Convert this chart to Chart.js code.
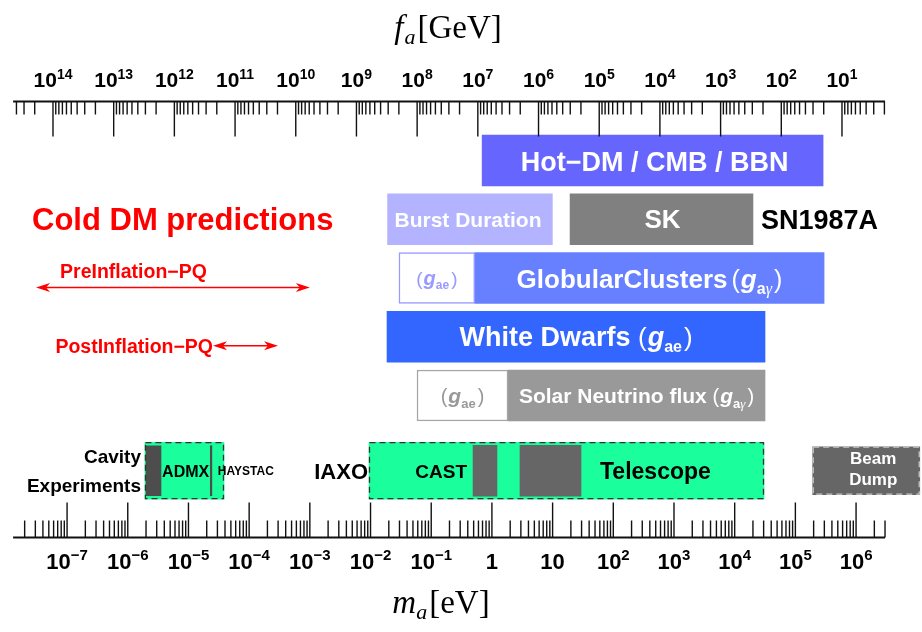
<!DOCTYPE html>
<html>
<head>
<meta charset="utf-8">
<script src="https://cdn.jsdelivr.net/npm/chart.js@4.4.1/dist/chart.umd.min.js"></script>
<style>
  html, body { margin: 0; padding: 0; background: #fff; }
  #wrap { width: 922px; height: 632px; }
</style>
</head>
<body>
<div id="wrap"><canvas id="axion_chart" width="922" height="632"></canvas></div>
<script>
// axion mass ranges (eV)
const hotDM = [0.69, 2.86e5];
const burstDuration = [0.0191, 9.9];
const superK = [19.4, 2.0e4];
const globularGae = [0.0294, 0.522];
const globularGag = [0.522, 2.97e5];
const whiteDwarfs = [0.0187, 3.16e4];
const solarGae = [0.0583, 1.84];
const solarGag = [1.84, 3.16e4];
const cavity = [1.92e-6, 3.85e-5];
const admx = [2.0e-6, 3.53e-6];
const haystac = [2.29e-5, 2.43e-5];
const helioscope = [9.44e-3, 3.04e4];
const castLow = [0.489, 1.21];
const castHigh = [2.9, 29.4];
const beamDump = [1.93e5, 1.12e7];
const preInflation = [3.08e-8, 1.0e-3];
const postInflation = [2.54e-5, 2.99e-4];

// rows on the vertical axis
const rows = ["Hot-DM", "SN1987A", "Globular Clusters", "White Dwarfs", "Solar", "Experiments"];
const rowPos = [0, 1, 2, 3, 4, 5.28];

// axes
const massExponents = [-7, -6, -5, -4, -3, -2, -1, 0, 1, 2, 3, 4, 5, 6];
const faExponents = [14, 13, 12, 11, 10, 9, 8, 7, 6, 5, 4, 3, 2, 1];
const massAxisRange = [1.29e-8, 3.0e6];
const faTimesMass = 5.86e6; // m_a[eV] * f_a[GeV]

const SANS = '"Liberation Sans", Arial, sans-serif';
const SERIF = '"Liberation Serif", "Times New Roman", serif';

function bar(key, range, row, color, thick, extra) {
  return Object.assign({
    key: key,
    data: [{ x: range, y: rowPos[row] }],
    backgroundColor: color,
    borderWidth: 0,
    borderSkipped: false,
    barThickness: thick,
    grouped: false,
    order: 0,
  }, extra || {});
}

const datasets = [
  bar("hotDM", hotDM, 0, "#6666ff", 51),
  bar("burst", burstDuration, 1, "#b3b3ff", 51),
  bar("sk", superK, 1, "#808080", 51),
  bar("globGae", globularGae, 2, "#ffffff", 51, { borderWidth: 1.5, borderColor: "#9999ff" }),
  bar("globGag", globularGag, 2, "#6680ff", 51),
  bar("wd", whiteDwarfs, 3, "#3366ff", 51),
  bar("solGae", solarGae, 4, "#ffffff", 51, { borderWidth: 1.5, borderColor: "#a6a6a6" }),
  bar("solGag", solarGag, 4, "#999999", 51),
  bar("cavity", cavity, 5, "#1aff9c", 57, { order: 1, dashed: "#333333" }),
  bar("admx", admx, 5, "#4d4d4d", 50),
  bar("haystac", haystac, 5, "#4d4d4d", 50),
  bar("helio", helioscope, 5, "#1aff9c", 57, { order: 1, dashed: "#333333" }),
  bar("castLow", castLow, 5, "#666666", 51),
  bar("castHigh", castHigh, 5, "#666666", 51),
  bar("beam", beamDump, 5, "#666666", 48, { dashed: "#c8c8c8" }),
];

function rectOf(chart, key) {
  const i = chart.data.datasets.findIndex((d) => d.key === key);
  const el = chart.getDatasetMeta(i).data[0];
  const p = el.getProps(["x", "y", "base", "height"], true);
  const left = Math.min(p.x, p.base), right = Math.max(p.x, p.base);
  return { left: left, right: right, top: p.y - p.height / 2, bottom: p.y + p.height / 2, cx: (left + right) / 2, cy: p.y, h: p.height };
}

function drawRich(ctx, parts, x, y, align) {
  let w = 0;
  parts.forEach((p) => {
    ctx.font = p.font;
    p.w = ctx.measureText(p.t).width + (p.gap || 0);
    w += p.w;
  });
  let cx = align === "left" ? x : align === "right" ? x - w : x - w / 2;
  ctx.textAlign = "left";
  ctx.textBaseline = "alphabetic";
  parts.forEach((p) => {
    ctx.font = p.font;
    if (p.color) ctx.fillStyle = p.color;
    ctx.fillText(p.t, cx, y + (p.dy || 0));
    cx += p.w;
  });
}

function coupling(sub, size, color) {
  const parts = [
    { t: "(", font: size - 1 + "px " + SANS, color: color, gap: 1 },
    { t: "g", font: "italic bold " + size + "px " + SANS, color: color },
    { t: "a", font: "bold " + Math.round(size * 0.6) + "px " + SANS, color: color, dy: size * 0.22 },
  ];
  if (sub === "e") parts.push({ t: "e", font: "bold " + Math.round(size * 0.6) + "px " + SANS, color: color, dy: size * 0.22 });
  else parts.push({ t: "γ", font: "italic " + Math.round(size * 0.6) + "px " + SERIF, color: color, dy: size * 0.22 });
  parts.push({ t: ")", font: size - 1 + "px " + SANS, color: color, gap: 0 });
  parts[parts.length - 2].gap = 2;
  return parts;
}

function arrow(ctx, x1, x2, y, color) {
  ctx.strokeStyle = color;
  ctx.fillStyle = color;
  ctx.lineWidth = 1.6;
  ctx.beginPath();
  ctx.moveTo(x1 + 8, y);
  ctx.lineTo(x2 - 8, y);
  ctx.stroke();
  [[x1, 1], [x2, -1]].forEach(([tx, dir]) => {
    ctx.beginPath();
    ctx.moveTo(tx, y);
    ctx.lineTo(tx + dir * 14, y - 4.5);
    ctx.lineTo(tx + dir * 10, y);
    ctx.lineTo(tx + dir * 14, y + 4.5);
    ctx.closePath();
    ctx.fill();
  });
}

function drawAxis(ctx, xs, yBase, dir, labels) {
  const lo = xs.getPixelForValue(massAxisRange[0]);
  const hi = xs.getPixelForValue(massAxisRange[1]);
  ctx.strokeStyle = "#111";
  ctx.lineWidth = 2;
  ctx.beginPath();
  ctx.moveTo(lo, yBase);
  ctx.lineTo(hi, yBase);
  ctx.stroke();
  ctx.lineWidth = 1.4;
  labels.ticks.forEach((t) => {
    const px = xs.getPixelForValue(t.v);
    ctx.beginPath();
    ctx.moveTo(px, yBase);
    ctx.lineTo(px, yBase + dir * (t.major ? 35 : labels.minorLen));
    ctx.stroke();
  });
}

const axionPlugin = {
  id: "axionDecor",
  afterDatasetsDraw(chart) {
    const ctx = chart.ctx;
    const xs = chart.scales.x;
    const ys = chart.scales.y;
    ctx.save();

    // dashed outlines
    chart.data.datasets.forEach((d) => {
      if (!d.dashed) return;
      const r = rectOf(chart, d.key);
      ctx.strokeStyle = d.dashed;
      ctx.lineWidth = 1.3;
      ctx.setLineDash([6, 4]);
      ctx.strokeRect(r.left + 0.5, r.top + 0.5, r.right - r.left - 1, r.bottom - r.top - 1);
    });
    ctx.setLineDash([]);

    // bottom axis: m_a
    const inRange = (v) => v >= massAxisRange[0] * 0.999 && v <= massAxisRange[1] * 1.001;
    const mTicks = [];
    for (let k = -9; k <= 7; k++) for (let j = 1; j <= 9; j++) {
      const v = j * Math.pow(10, k);
      if (inRange(v)) mTicks.push({ v: v, major: j === 1 });
    }
    drawAxis(ctx, xs, 537.5, -1, { ticks: mTicks, minorLen: 17 });

    // top axis: f_a
    const fTicks = [];
    for (let k = 0; k <= 15; k++) for (let j = 1; j <= 9; j++) {
      const v = faTimesMass / (j * Math.pow(10, k));
      if (inRange(v)) fTicks.push({ v: v, major: j === 1 });
    }
    drawAxis(ctx, xs, 101.5, 1, { ticks: fTicks, minorLen: 13 });

    ctx.fillStyle = "#000";
    massExponents.forEach((e) => {
      const px = xs.getPixelForValue(Math.pow(10, e));
      if (e === 0 || e === 1) {
        drawRich(ctx, [{ t: e === 0 ? "1" : "10", font: "bold 22px " + SANS }], px, 569, "center");
      } else {
        drawRich(ctx, [
          { t: "10", font: "bold 22px " + SANS },
          { t: (e < 0 ? "−" : "") + Math.abs(e), font: "bold 15px " + SANS, dy: -9 },
        ], px, 569, "center");
      }
    });
    faExponents.forEach((e) => {
      const px = xs.getPixelForValue(faTimesMass / Math.pow(10, e));
      drawRich(ctx, [
        { t: "10", font: "bold 21px " + SANS },
        { t: String(e), font: "bold 14px " + SANS, dy: -8 },
      ], px, 87, "center");
    });

    // axis titles
    drawRich(ctx, [
      { t: "f", font: "italic 33px " + SERIF, gap: 1 },
      { t: "a", font: "italic 22px " + SERIF, dy: 6, gap: 2 },
      { t: "[GeV]", font: "33px " + SERIF },
    ], 448, 38, "center");
    drawRich(ctx, [
      { t: "m", font: "italic 33px " + SERIF },
      { t: "a", font: "italic 22px " + SERIF, dy: 6, gap: 2 },
      { t: "[eV]", font: "33px " + SERIF },
    ], 441, 613, "center");

    // labels in bars
    const W = "#ffffff";
    let r = rectOf(chart, "hotDM");
    drawRich(ctx, [{ t: "Hot−DM / CMB / BBN", font: "bold 27px " + SANS, color: W }], r.cx + 2, r.cy + 10, "center");
    r = rectOf(chart, "burst");
    drawRich(ctx, [{ t: "Burst Duration", font: "bold 21px " + SANS, color: W }], r.cx - 2, r.cy + 8, "center");
    r = rectOf(chart, "sk");
    drawRich(ctx, [{ t: "SK", font: "bold 26px " + SANS, color: W }], r.cx + 1, r.cy + 9, "center");
    drawRich(ctx, [{ t: "SN1987A", font: "bold 27px " + SANS, color: "#000" }], r.right + 8, r.cy + 9.5, "left");

    r = rectOf(chart, "globGae");
    drawRich(ctx, coupling("e", 20, "#9999ff"), r.cx, r.cy + 7, "center");
    r = rectOf(chart, "globGag");
    drawRich(ctx, [{ t: "GlobularClusters", font: "bold 26px " + SANS, color: W, gap: 4 }].concat(coupling("γ", 26, W)), r.cx, r.cy + 10, "center");

    r = rectOf(chart, "wd");
    drawRich(ctx, [{ t: "White Dwarfs ", font: "bold 27px " + SANS, color: W }].concat(coupling("e", 27, W)), r.cx, r.cy + 9.5, "center");

    r = rectOf(chart, "solGae");
    drawRich(ctx, coupling("e", 21, "#999999"), r.cx, r.cy + 7.5, "center");
    r = rectOf(chart, "solGag");
    drawRich(ctx, [{ t: "Solar Neutrino flux ", font: "bold 21px " + SANS, color: W }].concat(coupling("γ", 21, W)), r.cx, r.cy + 7.5, "center");

    // experiments row
    r = rectOf(chart, "cavity");
    ctx.fillStyle = "#000";
    drawRich(ctx, [{ t: "Cavity", font: "bold 19px " + SANS, color: "#000" }], r.left - 4, r.cy - 7.5, "right");
    drawRich(ctx, [{ t: "Experiments", font: "bold 19px " + SANS, color: "#000" }], r.left - 4, r.cy + 21.5, "right");
    let a = rectOf(chart, "admx");
    let h = rectOf(chart, "haystac");
    drawRich(ctx, [{ t: "ADMX", font: "bold 16px " + SANS, color: "#000" }], (a.right + h.left) / 2, r.cy + 6, "center");
    drawRich(ctx, [{ t: "HAYSTAC", font: "bold 12px " + SANS, color: "#000" }], h.right + 6, r.cy + 4.5, "left");

    r = rectOf(chart, "helio");
    drawRich(ctx, [{ t: "IAXO", font: "bold 22px " + SANS, color: "#000" }], r.left - 1, r.cy + 8, "right");
    a = rectOf(chart, "castLow");
    drawRich(ctx, [{ t: "CAST", font: "bold 19px " + SANS, color: "#000" }], a.left - 6, r.cy + 7, "right");
    a = rectOf(chart, "castHigh");
    drawRich(ctx, [{ t: "Telescope", font: "bold 23px " + SANS, color: "#000" }], a.right + 19, r.cy + 8, "left");

    r = rectOf(chart, "beam");
    drawRich(ctx, [{ t: "Beam", font: "bold 17px " + SANS, color: W }], r.cx + 7, r.cy - 6.5, "center");
    drawRich(ctx, [{ t: "Dump", font: "bold 17px " + SANS, color: W }], r.cx + 7, r.cy + 14.5, "center");

    // cold DM predictions
    const red = "#ff0000";
    const pre1 = xs.getPixelForValue(preInflation[0]);
    const pre2 = xs.getPixelForValue(preInflation[1]);
    const post1 = xs.getPixelForValue(postInflation[0]);
    const post2 = xs.getPixelForValue(postInflation[1]);
    drawRich(ctx, [{ t: "Cold DM predictions", font: "bold 31px " + SANS, color: red }], pre1 - 4, ys.getPixelForValue(rowPos[1]) + 11, "left");
    const yPre = ys.getPixelForValue(rowPos[2]) + 9.5;
    drawRich(ctx, [{ t: "PreInflation−PQ", font: "bold 19.5px " + SANS, color: red }], pre1 + 24, yPre - 9.5, "left");
    arrow(ctx, pre1, pre2, yPre, red);
    const yPost = ys.getPixelForValue(rowPos[3]) + 9;
    drawRich(ctx, [{ t: "PostInflation−PQ", font: "bold 19.5px " + SANS, color: red }], post1, yPost + 7, "right");
    arrow(ctx, post1, post2, yPost, red);

    ctx.restore();
  },
};

window.onload = function () {
  const ctx = document.getElementById("axion_chart").getContext("2d");
  new Chart(ctx, {
    type: "bar",
    data: { labels: rows, datasets: datasets },
    options: {
      indexAxis: "y",
      responsive: false,
      animation: false,
      events: [],
      layout: { padding: 0 },
      plugins: { legend: { display: false }, tooltip: { enabled: false } },
      scales: {
        x: { type: "logarithmic", min: 7.85e-9, max: 1.22e7, offset: false, display: false },
        y: { type: "linear", min: -2.732, max: 8.025, reverse: true, offset: false, display: false },
      },
    },
    plugins: [axionPlugin],
  });
};
</script>
</body>
</html>
